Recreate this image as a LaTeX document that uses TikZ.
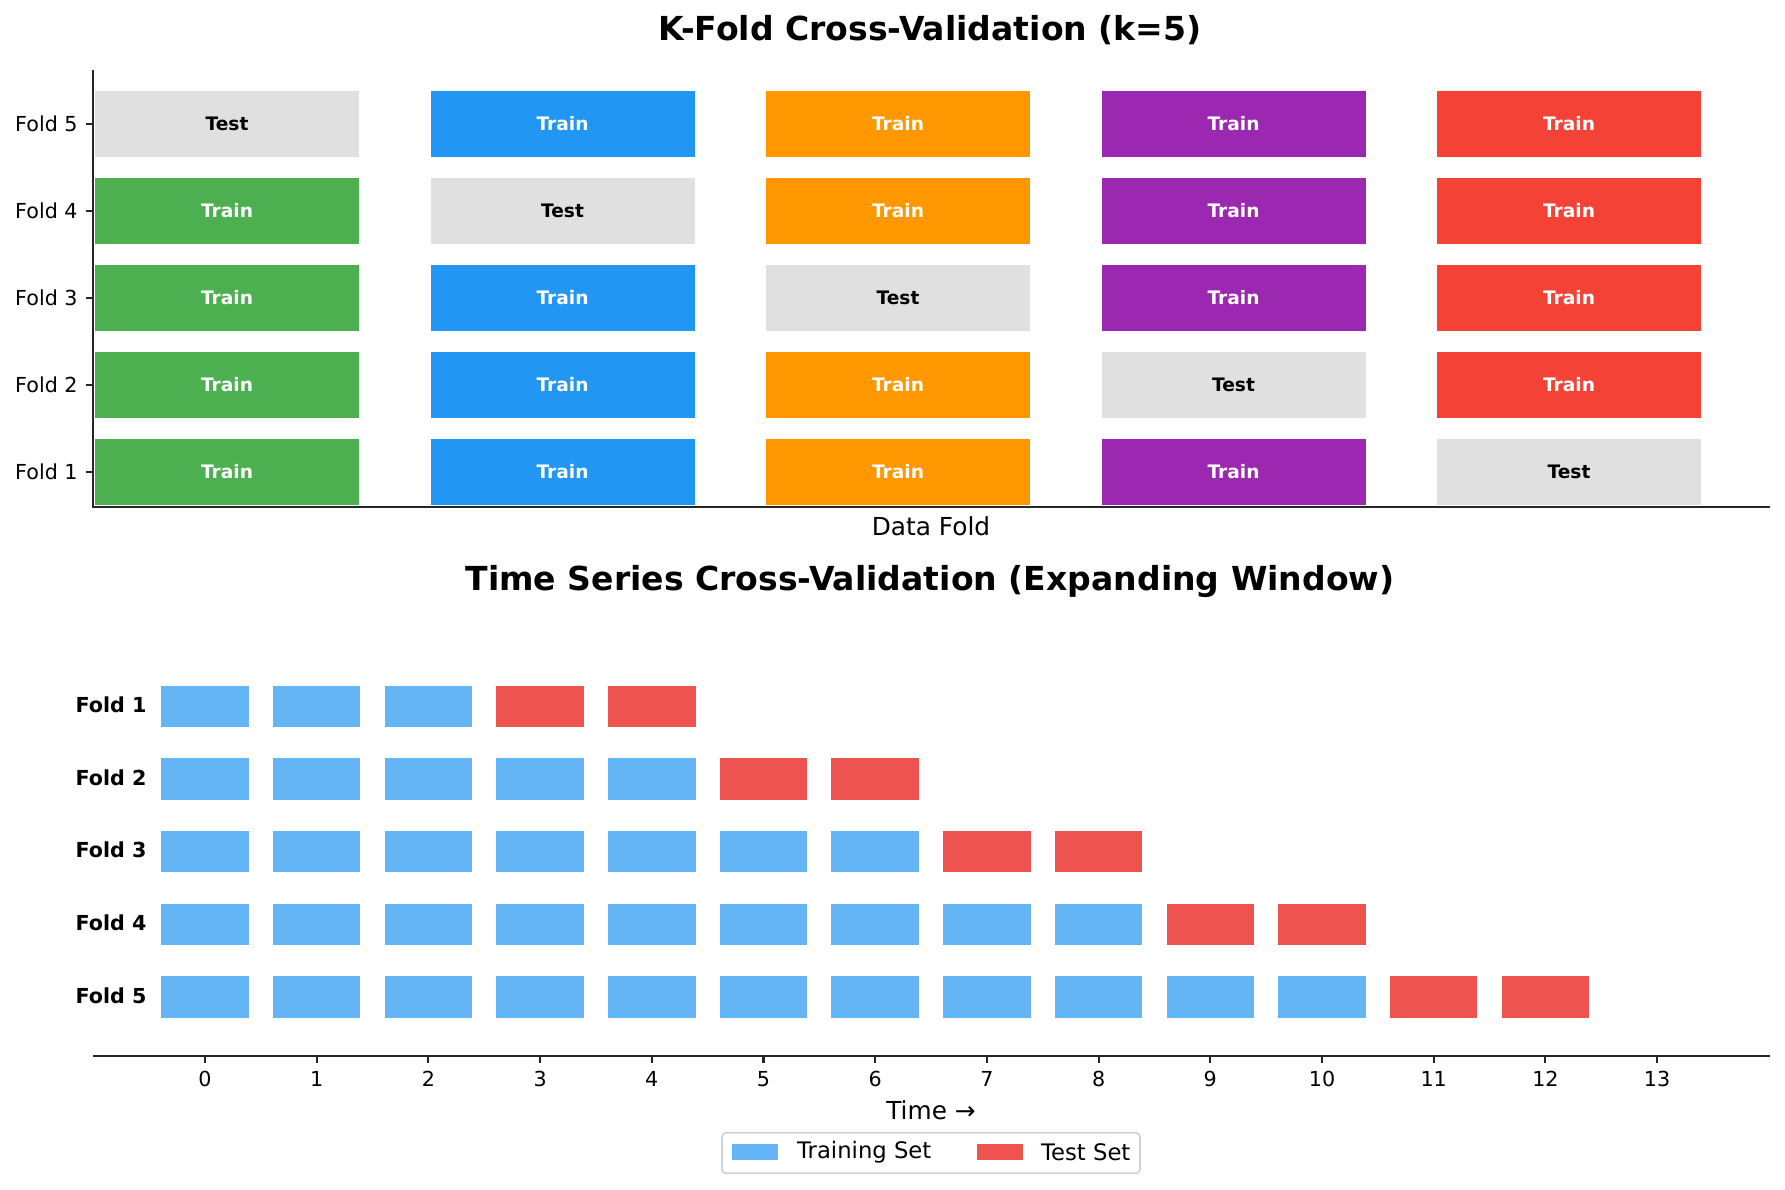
\documentclass[tikz,border=0pt]{standalone}
\usepackage{fontspec}
\setmainfont{DejaVu Sans}
\definecolor{cgreen}{HTML}{4CAF50}
\definecolor{cblue}{HTML}{2196F3}
\definecolor{corange}{HTML}{FF9800}
\definecolor{cpurple}{HTML}{9C27B0}
\definecolor{cred}{HTML}{F44336}
\definecolor{cgray}{HTML}{E0E0E0}
\definecolor{ctrain}{HTML}{64B5F6}
\definecolor{ctest}{HTML}{EF5350}
\definecolor{axcol}{HTML}{262626}
\begin{document}
\begin{tikzpicture}[x=0.48403bp,y=-0.48403bp,
  kbox/.style={inner sep=0pt,minimum width=264*0.48403bp,minimum height=66*0.48403bp,font=\fontsize{9bp}{11bp}\selectfont\bfseries},
  tbox/.style={inner sep=0pt,minimum width=87.5*0.48403bp,minimum height=41.5*0.48403bp},
  ticklab/.style={inner sep=0pt,font=\fontsize{10bp}{12bp}\selectfont},
  foldlab/.style={inner sep=0pt,font=\fontsize{10bp}{12bp}\selectfont\bfseries},
  ttl/.style={inner sep=0pt,font=\fontsize{16bp}{19bp}\selectfont\bfseries},
  axlab/.style={inner sep=0pt,font=\fontsize{12bp}{14bp}\selectfont},
  axisline/.style={draw=axcol,line width=1bp},
  legtext/.style={inner sep=0pt,anchor=west,font=\fontsize{11bp}{13bp}\selectfont}]
\useasboundingbox[fill=white] (0,0) rectangle (1785,1189);

% ---------- top chart ----------
\node[ttl] (title1) at (930,30) {K-Fold Cross-Validation (k=5)};
\foreach \i in {1,...,5}{
  \foreach \j/\col in {0/cgreen,1/cblue,2/corange,3/cpurple,4/cred}{
    \pgfmathsetmacro\yy{471.7-(\i-1)*87}
    \pgfmathsetmacro\xx{227+335.5*\j}
    \pgfmathtruncatemacro\ist{(\j==5-\i)}
    \ifnum\ist=1
      \node[kbox,fill=cgray,text=black] (k\i\j) at (\xx,\yy) {Test};
    \else
      \node[kbox,fill=\col,text=white] (k\i\j) at (\xx,\yy) {Train};
    \fi
  }
}
\coordinate (ya0) at (93,70);
\coordinate (ya1) at (93,506.7);
\coordinate (xb1) at (1770,506.7);
\draw[axisline] (ya0) -- (ya1) -- (xb1);
\foreach \i in {1,...,5}{
  \pgfmathsetmacro\yy{471.7-(\i-1)*87}
  \coordinate (yt\i) at (86,\yy);
  \coordinate (yt\i b) at (93,\yy);
  \draw[axisline] (yt\i) -- (yt\i b);
  \node[ticklab,anchor=east] (yl\i) at (78,\yy) {Fold \i};
}
\node[axlab] (xlab1) at (931,526) {Data Fold};

% ---------- bottom chart ----------
\node[ttl] (title2) at (930,581) {Time Series Cross-Validation (Expanding Window)};
\foreach \k in {1,...,5}{
  \pgfmathsetmacro\yy{706.5+(\k-1)*72.6}
  \node[foldlab,anchor=east] (f\k) at (147,\yy-1.5) {Fold \k};
  \pgfmathtruncatemacro\ntr{2*\k}
  \pgfmathtruncatemacro\tsa{2*\k+1}
  \pgfmathtruncatemacro\tsb{2*\k+2}
  \foreach \t in {0,...,\ntr}{
    \node[tbox,fill=ctrain] (b\k-\t) at (205+111.7*\t,\yy) {};
  }
  \foreach \t in {\tsa,\tsb}{
    \node[tbox,fill=ctest] (b\k-\t) at (205+111.7*\t,\yy) {};
  }
}
\coordinate (xa0) at (93,1055.7);
\coordinate (xa1) at (1770,1055.7);
\draw[axisline] (xa0) -- (xa1);
\foreach \t in {0,...,13}{
  \coordinate (xt\t) at (205+111.7*\t,1055.7);
  \coordinate (xt\t b) at (205+111.7*\t,1062.9);
  \draw[axisline] (xt\t) -- (xt\t b);
  \node[ticklab] (xl\t) at (205+111.7*\t,1079) {\t};
}
\node[axlab] (xlab2) at (931,1110) {Time →};

% legend
\node[draw=black!18,line width=0.8bp,rounded corners=2bp,fill=white,inner sep=0pt,
      minimum width=418*0.48403bp,minimum height=40.6*0.48403bp] (leg) at (931,1153) {};
\node[inner sep=0pt,fill=ctrain,minimum width=46*0.48403bp,minimum height=16*0.48403bp] (legtr) at (754.5,1152) {};
\node[legtext] (legtrt) at (796.7,1152) {Training Set};
\node[inner sep=0pt,fill=ctest,minimum width=46*0.48403bp,minimum height=16*0.48403bp] (legts) at (999.7,1152) {};
\node[legtext] (legtst) at (1040.7,1152) {Test Set};
\end{tikzpicture}
\end{document}
